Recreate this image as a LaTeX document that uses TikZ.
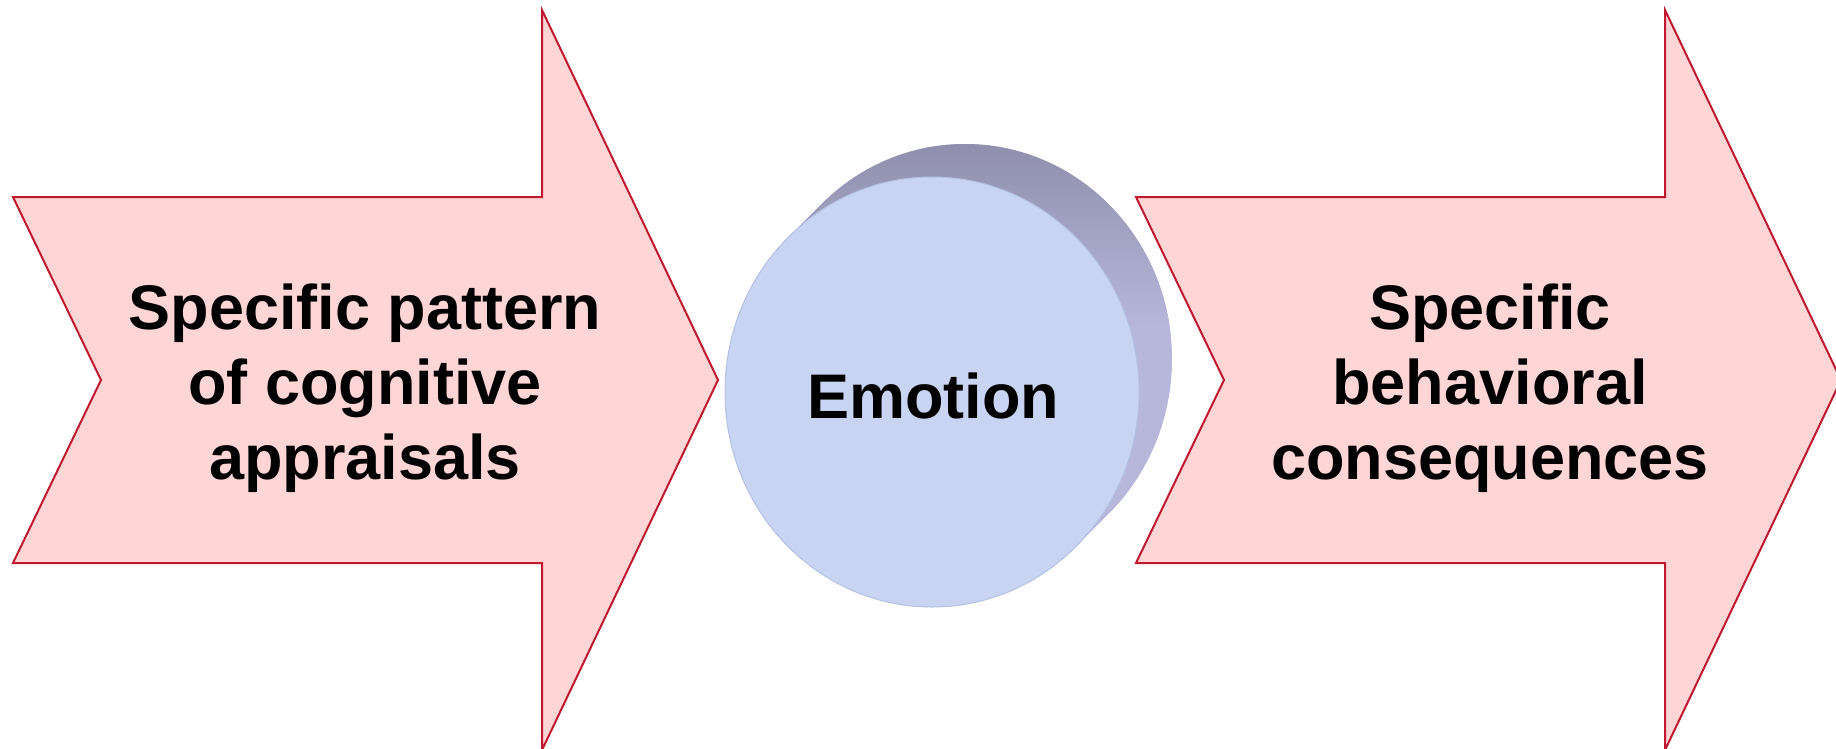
\documentclass[tikz,border=0pt]{standalone}
\usepackage{fontspec}
\setmainfont{Liberation Sans}
\definecolor{arrowpink}{HTML}{FFD5D6}
\definecolor{arrowred}{HTML}{C0182E}
\definecolor{bandtop}{HTML}{8F8EAC}
\definecolor{bandmid}{HTML}{B6B7DB}
\definecolor{facecol}{HTML}{C8D4F1}
\definecolor{facerim}{HTML}{B4C2E4}
\begin{document}
\begin{tikzpicture}[x=1pt,y=-1pt,
  arrowshape/.style={fill=arrowpink, draw=arrowred, line width=2pt, line join=miter},
  lbl/.style={font=\fontsize{63}{75}\selectfont\bfseries, align=center, text=black, inner sep=0pt}]
\useasboundingbox (0,0) rectangle (1836,748);
\clip (0,0) rectangle (1836,748);
% left arrow
\path[arrowshape] (13,197) -- (542,197) -- (542,10) -- (718,380) -- (542,750) -- (542,563) -- (13,563) -- (101,380) -- cycle;
% right arrow
\path[arrowshape] (1136,197) -- (1665,197) -- (1665,10) -- (1841,380) -- (1665,750) -- (1665,563) -- (1136,563) -- (1224,380) -- cycle;
% disc side band
\begin{scope}
  \clip foreach \i in {0,3,...,33} {(932+\i,392-\i) ellipse (207 and 215)};
  \fill[bandmid] (700,130) rectangle (1200,650);
  \shade[top color=bandtop, bottom color=bandmid] (700,140) rectangle (1200,330);
\end{scope}
% disc front face
\fill[facecol] (932,392) ellipse (207 and 215);
\draw[facerim, line width=1pt] (932,392) ellipse (207 and 215);
% labels
\node[lbl] (emotion) at (933,418) [anchor=base] {Emotion};
\node[lbl] (appraisal) at (365,388) {Specific pattern\\of cognitive\\appraisals};
\node[lbl] (behavior) at (1490,388) {Specific\\behavioral\\consequences};
\end{tikzpicture}
\end{document}
